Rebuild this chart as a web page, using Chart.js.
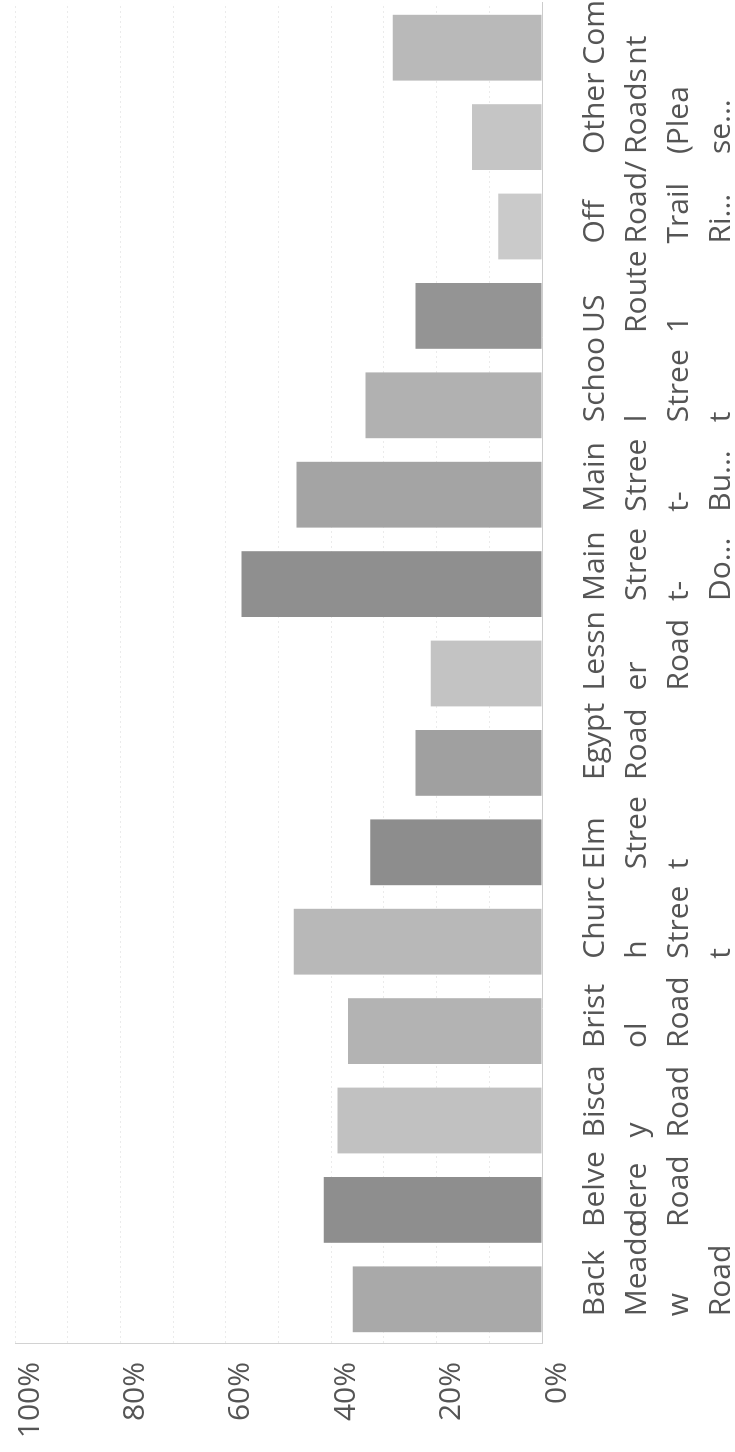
<!DOCTYPE html>
<html>
<head>
<meta charset="utf-8">
<script src="https://cdn.jsdelivr.net/npm/chart.js@4.4.1/dist/chart.umd.min.js"></script>
<style>
  html, body { margin: 0; padding: 0; background: #fff; overflow: hidden; }
  /* chart is laid out landscape, then turned a quarter turn to the left */
  #wrap {
    position: absolute; left: 0; top: 0;
    width: 1452px; height: 735px;
    transform-origin: 0 0;
    transform: translateY(1452px) rotate(-90deg);
  }
</style>
</head>
<body>
<div id="wrap"><canvas id="chart" width="1452" height="735"></canvas></div>
<script>
const categories = [
  ["Back", "Meado", "w", "Road"],
  ["Belve", "dere", "Road"],
  ["Bisca", "y", "Road"],
  ["Brist", "ol", "Road"],
  ["Churc", "h", "Stree", "t"],
  ["Elm", "Stree", "t"],
  ["Egypt", "Road"],
  ["Lessn", "er", "Road"],
  ["Main", "Stree", "t-", "Do..."],
  ["Main", "Stree", "t-", "Bu..."],
  ["Schoo", "l", "Stree", "t"],
  ["US", "Route", "1"],
  ["Off", "Road/", "Trail", "Ri..."],
  ["Other", "Roads", "(Plea", "se..."],
  ["Comme", "nt"],
];

// percent of responses
const shares = [35.9, 41.4, 38.8, 36.8, 47.1, 32.6, 24.0, 21.1, 57.0, 46.6, 33.5, 24.0, 8.3, 13.3, 28.3];

const barColors = [
  "#a9a9a9", "#8e8e8e", "#c1c1c1", "#b3b3b3", "#b8b8b8",
  "#8d8d8d", "#a0a0a0", "#c3c3c3", "#8f8f8f", "#a4a4a4",
  "#b1b1b1", "#949494", "#cacaca", "#c5c5c5", "#b9b9b9",
];

Chart.defaults.font.family = "'Open Sans', sans-serif";
Chart.defaults.font.size = 30;
Chart.defaults.color = "#555";

const ctx = document.getElementById("chart");
const chart = new Chart(ctx, {
  type: "bar",
  data: {
    labels: categories,
    datasets: [
      {
        data: shares,
        backgroundColor: barColors,
        categoryPercentage: 0.8,
        barPercentage: 0.92,
      },
    ],
  },
  options: {
    responsive: false,
    animation: false,
    layout: {
      padding: { left: 12, right: 3, top: 15, bottom: 0 },
    },
    plugins: {
      legend: { display: false },
      tooltip: { enabled: false },
    },
    scales: {
      x: {
        grid: { display: false, drawTicks: false },
        border: { color: "#cccccc" },
        ticks: {
          autoSkip: false,
          maxRotation: 0,
          minRotation: 0,
          align: "start",
          labelOffset: -17,
          padding: 32,
          font: { lineHeight: 1.4 },
        },
        afterFit: (scale) => {
          scale.height = 193;
          scale.paddingLeft = 0;
          scale.paddingRight = 0;
        },
      },
      y: {
        min: 0,
        max: 100,
        grid: { color: "#ebebeb", drawTicks: false },
        border: { color: "#d2d2d2", dash: [2, 3] },
        ticks: {
          stepSize: 10,
          padding: 18,
          labelOffset: 15,
          callback: (v) => (v % 20 === 0 ? v + "%" : ""),
        },
        afterFit: (scale) => {
          scale.width = 96;
          scale.paddingTop = 0;
          scale.paddingBottom = 0;
        },
      },
    },
  },
});
</script>
</body>
</html>
